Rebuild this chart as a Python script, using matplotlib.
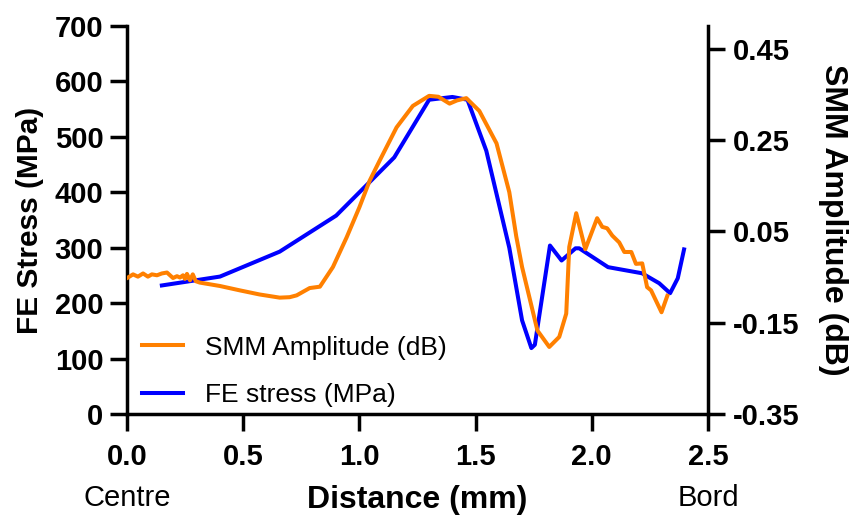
import matplotlib
matplotlib.use("Agg")
import matplotlib.pyplot as plt

plt.rcParams['font.family'] = ['Liberation Sans', 'DejaVu Sans']

# FE stress (MPa), left axis
fe_x = [0.15, 0.40, 0.657, 0.90, 1.15, 1.30, 1.40, 1.465, 1.546, 1.645, 1.70,
        1.74, 1.755, 1.82, 1.87, 1.93, 1.946, 2.07, 2.216, 2.29, 2.337, 2.37, 2.397]
fe_stress = [232, 248, 293, 358, 463, 567, 572, 567, 475, 300, 169,
             119, 125, 304, 277, 299, 299, 265, 254, 236, 218, 245, 297]

# SMM amplitude (dB), right axis
smm_x = [0.004, 0.026, 0.047, 0.069, 0.090, 0.107, 0.129, 0.150, 0.172, 0.185,
         0.198, 0.215, 0.228, 0.241, 0.249, 0.258, 0.271, 0.283, 0.296, 0.313,
         0.40, 0.485, 0.57, 0.657, 0.70, 0.73, 0.786, 0.83, 0.886, 0.945,
         1.0, 1.044, 1.087, 1.16, 1.23, 1.30, 1.34, 1.388, 1.42, 1.46,
         1.516, 1.59, 1.645, 1.675, 1.70, 1.766, 1.817, 1.86, 1.89, 1.903,
         1.933, 1.972, 2.023, 2.045, 2.066, 2.088, 2.118, 2.14, 2.17, 2.19,
         2.217, 2.238, 2.255, 2.30, 2.325]
smm_amp = [-0.051, -0.044, -0.049, -0.042, -0.049, -0.044, -0.046, -0.042, -0.040, -0.046,
           -0.052, -0.048, -0.051, -0.046, -0.054, -0.043, -0.057, -0.044, -0.059, -0.062,
           -0.0695, -0.079, -0.088, -0.095, -0.094, -0.090, -0.074, -0.071, -0.028, 0.037,
           0.103, 0.161, 0.205, 0.278, 0.325, 0.347, 0.345, 0.330, 0.337, 0.342,
           0.314, 0.243, 0.136, 0.039, -0.028, -0.167, -0.203, -0.181, -0.130, 0.016,
           0.090, 0.011, 0.079, 0.060, 0.057, 0.041, 0.026, 0.005, 0.005, -0.021,
           -0.020, -0.072, -0.079, -0.127, -0.091]

stress_ticks = [0, 100, 200, 300, 400, 500, 600, 700]
amp_ticks = [-0.35, -0.15, 0.05, 0.25, 0.45]
amp_labels = ['-0.35', '-0.15', '0.05', '0.25', '0.45']
dist_ticks = [0.0, 0.5, 1.0, 1.5, 2.0, 2.5]

fig, ax = plt.subplots(figsize=(8.53, 5.15), dpi=100)
fig.subplots_adjust(left=0.1489, right=0.830, bottom=0.196, top=0.9495)
ax2 = ax.twinx()

l_fe, = ax.plot(fe_x, fe_stress, color='#0000FF', lw=2.9, solid_joinstyle='round',
                label='FE stress (MPa)')
l_smm, = ax2.plot(smm_x, smm_amp, color='#FF8000', lw=2.9, solid_joinstyle='round',
                  label='SMM Amplitude (dB)')

ax.set_xlim(0, 2.5)
ax.set_ylim(0, 700)
ax2.set_ylim(-0.35, 0.5)

ax.set_xticks(dist_ticks)
ax.set_xticklabels([f"{t:.1f}" for t in dist_ticks])
ax.set_yticks(stress_ticks)
ax2.set_yticks(amp_ticks)
ax2.set_yticklabels(amp_labels)

for a in (ax, ax2):
    a.spines['top'].set_visible(False)
    for s in a.spines.values():
        s.set_linewidth(2.5)
    a.tick_params(direction='out', length=12, width=2.5, labelsize=21)
    for lab in a.get_xticklabels() + a.get_yticklabels():
        lab.set_fontweight('bold')
ax.spines['right'].set_visible(False)
ax2.spines['left'].set_visible(False)
ax2.spines['bottom'].set_visible(False)
ax.tick_params(axis='x', pad=9)
ax.tick_params(axis='y', pad=5)
ax2.tick_params(axis='y', pad=6)

ax.set_ylabel('FE Stress (MPa)', fontsize=21.5, fontweight='bold', labelpad=8)
ax2.set_ylabel('SMM Amplitude (dB)', fontsize=23, fontweight='bold',
               rotation=270, labelpad=35)
ax.set_xlabel('Distance (mm)', fontsize=23, fontweight='bold', labelpad=10)

ax.text(0.0, -0.2165, 'Centre', transform=ax.transAxes, ha='center', va='center', fontsize=21)
ax.text(1.0, -0.2165, 'Bord', transform=ax.transAxes, ha='center', va='center', fontsize=21)

leg = ax2.legend(handles=[l_smm, l_fe], loc='upper left', bbox_to_anchor=(0.026, 0.202),
                 frameon=False, fontsize=19, borderpad=0, borderaxespad=0,
                 handlelength=1.55, handletextpad=0.85, labelspacing=0.9)

fig.savefig('out.png', dpi=100)
